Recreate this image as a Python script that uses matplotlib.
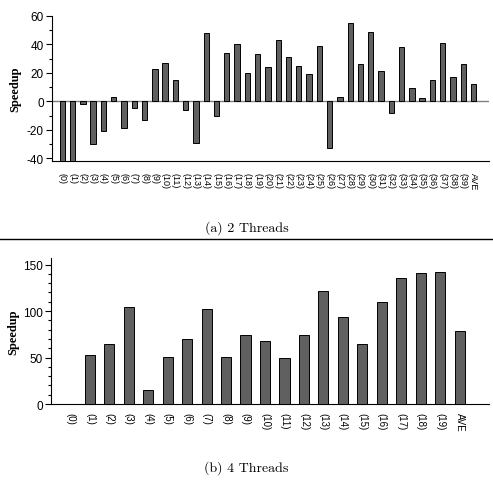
import matplotlib
matplotlib.use('Agg')
import matplotlib.pyplot as plt
from matplotlib.ticker import MultipleLocator
import numpy as np

# (a) 2 threads
labels_a = ['(%d)' % i for i in range(40)] + ['AVE']
speedup_a = [-42, -42, -2, -30, -21, 3, -19, -5, -13, 23,
             27, 15, -6, -29, 48, -10, 34, 40, 20, 33,
             24, 43, 31, 25, 19, 39, -33, 3, 55, 26,
             49, 21, -8, 38, 9, 2, 15, 41, 17, 26,
             12]

# (b) 4 threads
labels_b = ['(%d)' % i for i in range(20)] + ['AVE']
speedup_b = [0, 53, 64, 104, 15, 51, 70, 102, 51, 74,
             68, 50, 74, 122, 94, 65, 110, 136, 141, 142,
             79]

bar_color = '#606060'
tick_font = 'Liberation Sans'

fig = plt.figure(figsize=(4.93, 4.81), dpi=100)

ax1 = fig.add_axes([0.1055, 0.6632, 0.8864, 0.3015])
ax2 = fig.add_axes([0.1034, 0.158, 0.888, 0.3035])


def style(ax, labels, values, fs_x, pad_x, fs_y):
    x = np.arange(len(values))
    ax.bar(x, values, width=0.52, color=bar_color, edgecolor='black', linewidth=0.7, zorder=3)
    ax.set_xticks(x)
    ax.set_xticklabels(labels, rotation=-90, fontsize=fs_x, family=tick_font)
    ax.tick_params(axis='x', length=0, pad=pad_x)
    ax.tick_params(axis='y', which='major', length=4, width=0.8, direction='out', labelsize=fs_y, pad=2)
    ax.tick_params(axis='y', which='minor', length=2, width=0.8, direction='out')
    ax.spines['top'].set_visible(False)
    ax.spines['right'].set_visible(False)
    ax.set_xlim(-1, len(values) + 0.5)
    ax.set_ylabel('Speedup', family='Liberation Serif', fontweight='bold', fontsize=9, va='center')
    ax.yaxis.set_label_coords(-0.085, 0.5)


style(ax1, labels_a, speedup_a, 6.5, 8, 8.5)
ax1.set_ylim(-42, 60)
ax1.set_yticks([-40, -20, 0, 20, 40, 60])
ax1.set_yticklabels(['-40', '-20', '0', '20', '40', '60'], family=tick_font, fontsize=8.5)
ax1.yaxis.set_minor_locator(MultipleLocator(10))
ax1.axhline(0, color='#808080', linewidth=1, zorder=2)

style(ax2, labels_b, speedup_b, 7, 6, 8.5)
ax2.set_ylim(0, 157)
ax2.set_yticks([0, 50, 100, 150])
ax2.set_yticklabels(['0', '50', '100', '150'], family=tick_font, fontsize=8.5)
ax2.yaxis.set_minor_locator(MultipleLocator(10))

fig.text(0.5, 0.526, '(a) 2 Threads', ha='center', va='center', family='cmr10', fontsize=10)
fig.text(0.5, 0.027, '(b) 4 Threads', ha='center', va='center', family='cmr10', fontsize=10)
fig.add_artist(plt.Line2D([0, 1], [0.501, 0.501], color='black', linewidth=1, transform=fig.transFigure))

fig.savefig('out.png', dpi=100)
